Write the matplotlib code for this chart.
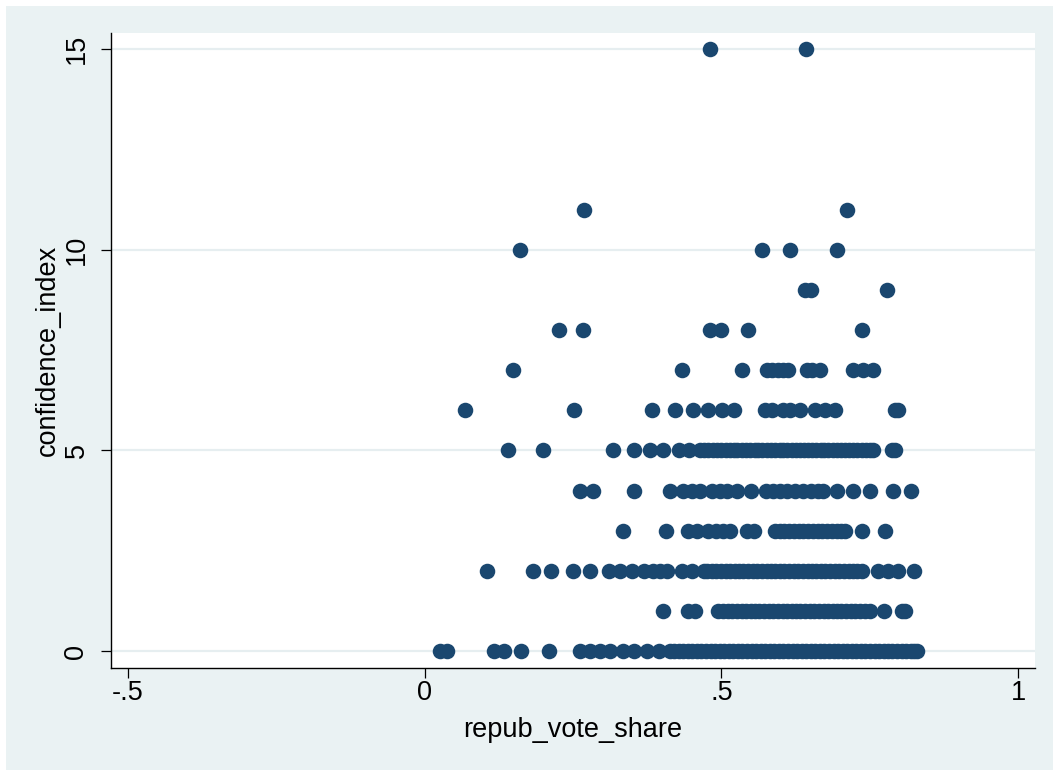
import numpy as np
import matplotlib
matplotlib.use("Agg")
from matplotlib import pyplot as plt
from matplotlib.patches import Rectangle

# repub_vote_share values, one list per confidence_index level
x_ci15 = [0.481, 0.643]
x_ci11 = [0.269, 0.712]
x_ci10 = [0.161, 0.568, 0.616, 0.695]
x_ci9 = [0.641, 0.650, 0.778]
x_ci8 = [0.227, 0.266, 0.481, 0.499, 0.545, 0.737]
x_ci7 = [0.149, 0.433, 0.535, 0.576, 0.585, 0.595, 0.604, 0.612,
         0.644, 0.652, 0.666, 0.722, 0.738, 0.755]
x_ci6 = [0.068, 0.251, 0.383, 0.422, 0.452, 0.478, 0.501, 0.521,
         0.574, 0.585, 0.604, 0.616, 0.632, 0.658, 0.674, 0.691,
         0.792, 0.797]
x_ci5 = [0.140, 0.200, 0.318, 0.353, 0.379, 0.401, 0.428, 0.446,
         0.464, 0.471, 0.478, 0.486, 0.493, 0.499, 0.507, 0.514,
         0.521, 0.527, 0.535, 0.541, 0.548, 0.556, 0.562, 0.569,
         0.577, 0.583, 0.590, 0.598, 0.604, 0.611, 0.618, 0.625,
         0.632, 0.639, 0.646, 0.652, 0.659, 0.667, 0.673, 0.680,
         0.688, 0.694, 0.701, 0.708, 0.715, 0.722, 0.729, 0.736,
         0.743, 0.750, 0.756, 0.787, 0.792]
x_ci4 = [0.262, 0.283, 0.353, 0.414, 0.435, 0.451, 0.464, 0.484,
         0.498, 0.510, 0.526, 0.549, 0.575, 0.587, 0.599, 0.611,
         0.624, 0.638, 0.651, 0.663, 0.671, 0.694, 0.721, 0.750,
         0.789, 0.820]
x_ci3 = [0.334, 0.406, 0.444, 0.459, 0.478, 0.491, 0.503, 0.515,
         0.543, 0.554, 0.590, 0.598, 0.606, 0.614, 0.622, 0.630,
         0.638, 0.646, 0.654, 0.662, 0.670, 0.678, 0.686, 0.694,
         0.701, 0.708, 0.736, 0.776]
x_ci2 = [0.105, 0.183, 0.213, 0.250, 0.279, 0.311, 0.329, 0.349,
         0.369, 0.385, 0.397, 0.408, 0.433, 0.450, 0.470, 0.476,
         0.484, 0.491, 0.499, 0.507, 0.514, 0.522, 0.530, 0.537,
         0.545, 0.553, 0.560, 0.568, 0.576, 0.583, 0.591, 0.599,
         0.606, 0.614, 0.622, 0.629, 0.637, 0.645, 0.652, 0.660,
         0.668, 0.675, 0.683, 0.691, 0.698, 0.706, 0.714, 0.721,
         0.729, 0.736, 0.764, 0.781, 0.798, 0.824]
x_ci1 = [0.402, 0.444, 0.456, 0.495, 0.503, 0.511, 0.518, 0.526,
         0.534, 0.541, 0.549, 0.557, 0.564, 0.572, 0.580, 0.587,
         0.595, 0.603, 0.610, 0.618, 0.626, 0.633, 0.641, 0.649,
         0.656, 0.664, 0.672, 0.679, 0.687, 0.695, 0.702, 0.710,
         0.718, 0.725, 0.733, 0.741, 0.750, 0.774, 0.804, 0.809]
x_ci0 = [0.026, 0.038, 0.117, 0.133, 0.163, 0.209, 0.261, 0.278,
         0.296, 0.313, 0.335, 0.352, 0.374, 0.394, 0.414, 0.420,
         0.428, 0.436, 0.443, 0.451, 0.459, 0.466, 0.474, 0.482,
         0.489, 0.497, 0.505, 0.512, 0.520, 0.528, 0.535, 0.543,
         0.551, 0.558, 0.566, 0.574, 0.581, 0.589, 0.597, 0.604,
         0.612, 0.620, 0.627, 0.635, 0.643, 0.650, 0.658, 0.666,
         0.673, 0.681, 0.689, 0.696, 0.704, 0.712, 0.719, 0.727,
         0.735, 0.742, 0.750, 0.758, 0.765, 0.773, 0.781, 0.788,
         0.796, 0.804, 0.811, 0.819, 0.825, 0.829]

rows = {15: x_ci15, 11: x_ci11, 10: x_ci10, 9: x_ci9, 8: x_ci8,
        7: x_ci7, 6: x_ci6, 5: x_ci5, 4: x_ci4, 3: x_ci3, 2: x_ci2,
        1: x_ci1, 0: x_ci0}

xs = []
ys = []
for level, vals in rows.items():
    xs.extend(vals)
    ys.extend([level] * len(vals))

x_ticks = [-0.5, 0, 0.5, 1]
x_ticklabels = ['-.5', '0', '.5', '1']
y_ticks = [0, 5, 10, 15]

plt.rcParams['font.family'] = ['Liberation Sans', 'DejaVu Sans']

W, H = 1053, 770
fig = plt.figure(figsize=(W / 100, H / 100), dpi=100, facecolor='white')
fig.patches.append(Rectangle((6 / W, 0), 1, 1 - 6 / H, transform=fig.transFigure,
                             facecolor='#EAF2F3', edgecolor='none', zorder=-10))

ax = fig.add_axes([111 / W, 1 - 668 / H, (1035 - 111) / W, (668 - 33) / H])
ax.set_zorder(5)
ax.set_facecolor('white')

ax.scatter(xs, ys, s=125, color='#1A476F', linewidths=0, zorder=3)

ax.set_xlim(-0.528, 1.028)
ax.set_ylim(-0.42, 15.4)
ax.set_xticks(x_ticks)
ax.set_xticklabels(x_ticklabels)
ax.set_yticks(y_ticks)
ax.set_yticklabels([str(v) for v in y_ticks], rotation=90, va='center')

ax.grid(axis='y', color='#E6EEF0', linewidth=1.6, zorder=1)
ax.set_axisbelow(True)

for side in ['top', 'right']:
    ax.spines[side].set_visible(False)
for side in ['left', 'bottom']:
    ax.spines[side].set_linewidth(1.0)
    ax.spines[side].set_color('black')

ax.tick_params(axis='both', direction='out', length=7.5, width=0.9,
               labelsize=19.5, colors='black')
ax.tick_params(axis='x', pad=1)
ax.tick_params(axis='y', pad=8)

ax.set_xlabel('repub_vote_share', fontsize=19.5, labelpad=8)
ax.set_ylabel('confidence_index', fontsize=19.5, labelpad=2)

fig.savefig('out.png', dpi=100, facecolor=fig.get_facecolor())
